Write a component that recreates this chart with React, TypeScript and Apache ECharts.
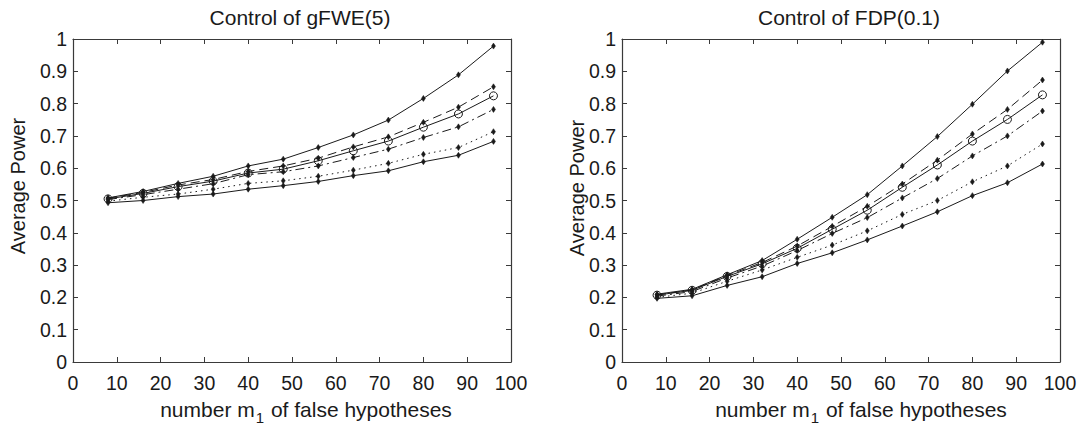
import React, { useEffect, useRef } from "react";
import * as echarts from "echarts";

const X = [8, 16, 24, 32, 40, 48, 56, 64, 72, 80, 88, 96];

// Left panel: Control of gFWE(5)
const gTop = [0.508, 0.528, 0.553, 0.575, 0.607, 0.628, 0.664, 0.703, 0.749, 0.816, 0.889, 0.978];
const gDash = [0.507, 0.525, 0.548, 0.565, 0.59, 0.607, 0.631, 0.666, 0.697, 0.742, 0.789, 0.852];
const gCirc = [0.505, 0.522, 0.543, 0.56, 0.585, 0.597, 0.623, 0.654, 0.684, 0.727, 0.768, 0.824];
const gDashDot = [0.503, 0.518, 0.535, 0.552, 0.58, 0.589, 0.607, 0.633, 0.659, 0.695, 0.728, 0.782];
const gDot = [0.498, 0.51, 0.52, 0.535, 0.553, 0.561, 0.575, 0.594, 0.615, 0.643, 0.664, 0.713];
const gBottom = [0.493, 0.5, 0.512, 0.52, 0.535, 0.546, 0.559, 0.577, 0.592, 0.62, 0.64, 0.683];

// Right panel: Control of FDP(0.1)
const fTop = [0.21, 0.225, 0.27, 0.314, 0.38, 0.448, 0.518, 0.607, 0.698, 0.798, 0.901, 0.99];
const fDash = [0.208, 0.223, 0.268, 0.308, 0.359, 0.42, 0.482, 0.551, 0.625, 0.706, 0.782, 0.873];
const fCirc = [0.207, 0.222, 0.265, 0.304, 0.352, 0.411, 0.47, 0.541, 0.61, 0.684, 0.751, 0.827];
const fDashDot = [0.204, 0.218, 0.26, 0.297, 0.345, 0.398, 0.447, 0.508, 0.568, 0.638, 0.7, 0.777];
const fDot = [0.2, 0.213, 0.25, 0.285, 0.324, 0.362, 0.406, 0.457, 0.5, 0.558, 0.607, 0.675];
const fBottom = [0.197, 0.205, 0.237, 0.264, 0.305, 0.338, 0.378, 0.421, 0.465, 0.515, 0.555, 0.613];

const titles = ["Control of gFWE(5)", "Control of FDP(0.1)"];
const yName = "Average Power";

const FONT = "'Liberation Sans', Arial, Helvetica, sans-serif";
const INK = "#1a1a1a";
const AXIS = "#3a3a3a";

type Style = { dash: any; symbol: string; size: any };
const styles: Style[] = [
  { dash: "solid", symbol: "diamond", size: [4, 6] },
  { dash: [9, 5], symbol: "diamond", size: [4, 6] },
  { dash: "solid", symbol: "circle", size: 8 },
  { dash: [9, 4, 2, 4], symbol: "diamond", size: [4, 6] },
  { dash: [1.5, 4], symbol: "diamond", size: [4, 6] },
  { dash: "solid", symbol: "diamond", size: [4, 6] },
];

const leftSets = [gTop, gDash, gCirc, gDashDot, gDot, gBottom];
const rightSets = [fTop, fDash, fCirc, fDashDot, fDot, fBottom];

const grids = [
  { left: 73, top: 39, width: 438, height: 323 },
  { left: 622, top: 39, width: 438, height: 323 },
];

function makeX(gi: number, pos: "bottom" | "top") {
  return {
    type: "value",
    gridIndex: gi,
    position: pos,
    min: 0,
    max: 100,
    interval: 10,
    axisLine: { show: true, onZero: false, lineStyle: { color: AXIS, width: 1.2 } },
    axisTick: { show: true, inside: true, length: 5, lineStyle: { color: AXIS } },
    splitLine: { show: false },
    axisLabel: {
      show: pos === "bottom",
      margin: 11,
      color: INK,
      fontSize: 19.5,
      fontFamily: FONT,
    },
  };
}

function makeY(gi: number, pos: "left" | "right") {
  return {
    type: "value",
    gridIndex: gi,
    position: pos,
    min: 0,
    max: 1,
    interval: 0.1,
    axisLine: { show: true, onZero: false, lineStyle: { color: AXIS, width: 1.2 } },
    axisTick: { show: true, inside: true, length: 5, lineStyle: { color: AXIS } },
    splitLine: { show: false },
    axisLabel: {
      show: pos === "left",
      margin: 6,
      color: INK,
      fontSize: 19.5,
      fontFamily: FONT,
      formatter: (v: number) => String(Math.round(v * 10) / 10),
    },
  };
}

function buildSeries(sets: number[][], axisIdx: number) {
  return sets.map((vals, i) => {
    const s = styles[i];
    const isCirc = s.symbol === "circle";
    return {
      type: "line",
      xAxisIndex: axisIdx,
      yAxisIndex: axisIdx,
      data: X.map((x, k) => [x, vals[k]]),
      symbol: s.symbol,
      symbolSize: s.size,
      showSymbol: true,
      lineStyle: { color: INK, width: 1, type: s.dash },
      itemStyle: isCirc
        ? { color: "rgba(255,255,255,0)", borderColor: INK, borderWidth: 1 }
        : { color: INK, borderColor: INK, borderWidth: 0.5 },
      z: isCirc ? 5 : 3,
    };
  });
}

export default function App() {
  const ref = useRef<HTMLDivElement>(null);
  useEffect(() => {
    if (!ref.current) return;
    const chart = echarts.init(ref.current, undefined, { renderer: "svg" });
    const xRich = {
      base: { fontSize: 21, fontFamily: FONT, color: INK },
      sub: { fontSize: 15, fontFamily: FONT, color: INK, padding: [16, 1, 0, 1] },
    };
    const option: any = {
      animation: false,
      backgroundColor: "#ffffff",
      grid: grids,
      xAxis: [makeX(0, "bottom"), makeX(0, "top"), makeX(1, "bottom"), makeX(1, "top")],
      yAxis: [makeY(0, "left"), makeY(0, "right"), makeY(1, "left"), makeY(1, "right")],
      series: [...buildSeries(leftSets, 0), ...buildSeries(rightSets, 2)],
      graphic: [
        {
          type: "text",
          x: 300,
          y: 17,
          style: { text: titles[0], fontSize: 21, fontFamily: FONT, fill: INK, align: "center", verticalAlign: "middle" },
        },
        {
          type: "text",
          x: 849,
          y: 17,
          style: { text: titles[1], fontSize: 21, fontFamily: FONT, fill: INK, align: "center", verticalAlign: "middle" },
        },
        {
          type: "text",
          x: 18,
          y: 186,
          rotation: Math.PI / 2,
          style: { text: yName, fontSize: 20, fontFamily: FONT, fill: INK, align: "center", verticalAlign: "middle" },
        },
        {
          type: "text",
          x: 577,
          y: 188,
          rotation: Math.PI / 2,
          style: { text: yName, fontSize: 20, fontFamily: FONT, fill: INK, align: "center", verticalAlign: "middle" },
        },
        {
          type: "text",
          x: 306,
          y: 409,
          style: {
            text: "{base|number m}{sub|1}{base| of false hypotheses}",
            rich: xRich,
            fill: INK,
            align: "center",
            verticalAlign: "middle",
          },
        },
        {
          type: "text",
          x: 861,
          y: 409,
          style: {
            text: "{base|number m}{sub|1}{base| of false hypotheses}",
            rich: xRich,
            fill: INK,
            align: "center",
            verticalAlign: "middle",
          },
        },
      ],
    };
    chart.setOption(option);
    return () => chart.dispose();
  }, []);
  return (
    <div
      ref={ref}
      style={{ position: "fixed", left: 0, top: 0, width: 1082, height: 429, background: "#fff" }}
    />
  );
}
